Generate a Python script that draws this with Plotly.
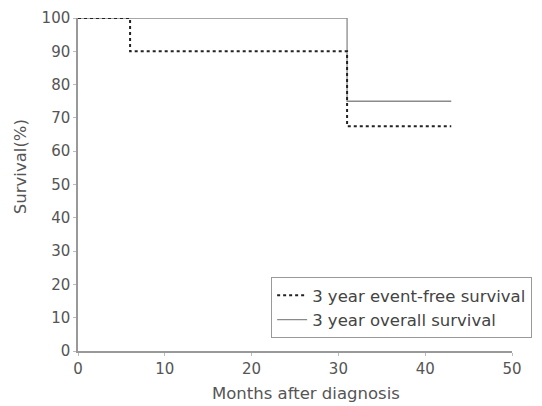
import plotly.graph_objects as go

efs_months = [0, 6, 6, 31, 31, 43]
efs_surv = [100, 100, 90, 90, 67.5, 67.5]
os_months = [0, 31, 31, 43]
os_surv = [100, 100, 75, 75]

x_ticks = [0, 10, 20, 30, 40, 50]
y_ticks = list(range(0, 101, 10))

x_title = "Months after diagnosis"
y_title = "Survival(%)"

fig = go.Figure()
fig.add_trace(go.Scatter(x=os_months, y=os_surv, mode="lines",
                         name="3 year overall survival", legendrank=2,
                         line=dict(color="#8a8a8a", width=1.3)))
fig.add_trace(go.Scatter(x=efs_months, y=efs_surv, mode="lines",
                         name="3 year event-free survival", legendrank=1,
                         line=dict(color="#222222", width=2, dash="dot")))

base_font = dict(family="DejaVu Sans, sans-serif", size=15, color="#555555")
fig.update_layout(
    width=534, height=398,
    margin=dict(l=70, r=30, t=10, b=55),
    paper_bgcolor="white", plot_bgcolor="white",
    font=base_font,
    showlegend=True,
    legend=dict(x=0.445, y=0.039, xanchor="left", yanchor="bottom",
                bordercolor="#999999", borderwidth=1, bgcolor="white",
                font=dict(size=16.5, color="#444444"), tracegroupgap=0,
                itemwidth=30),
    xaxis=dict(range=[0, 50], tickvals=x_ticks, showgrid=False, zeroline=False,
               showline=True, linecolor="#999999", linewidth=1.5,
               ticks="outside", ticklen=3, tickcolor="#bbbbbb", automargin=False,
               tickfont=dict(size=15)),
    yaxis=dict(range=[0, 100], tickvals=y_ticks, showgrid=False, zeroline=False,
               showline=True, linecolor="#999999", linewidth=1.5,
               ticks="outside", ticklen=3, tickcolor="#bbbbbb", automargin=False,
               tickfont=dict(size=15)),
    annotations=[
        dict(text=x_title, xref="paper", yref="paper", x=0.525, y=-0.129,
             xanchor="center", yanchor="middle", showarrow=False,
             font=dict(size=16.5, color="#555555")),
        dict(text=y_title, xref="paper", yref="paper", x=-0.131, y=0.5526,
             xanchor="center", yanchor="middle", showarrow=False, textangle=-90,
             font=dict(size=16.5, color="#555555")),
    ],
)
fig.write_html("out.html")
